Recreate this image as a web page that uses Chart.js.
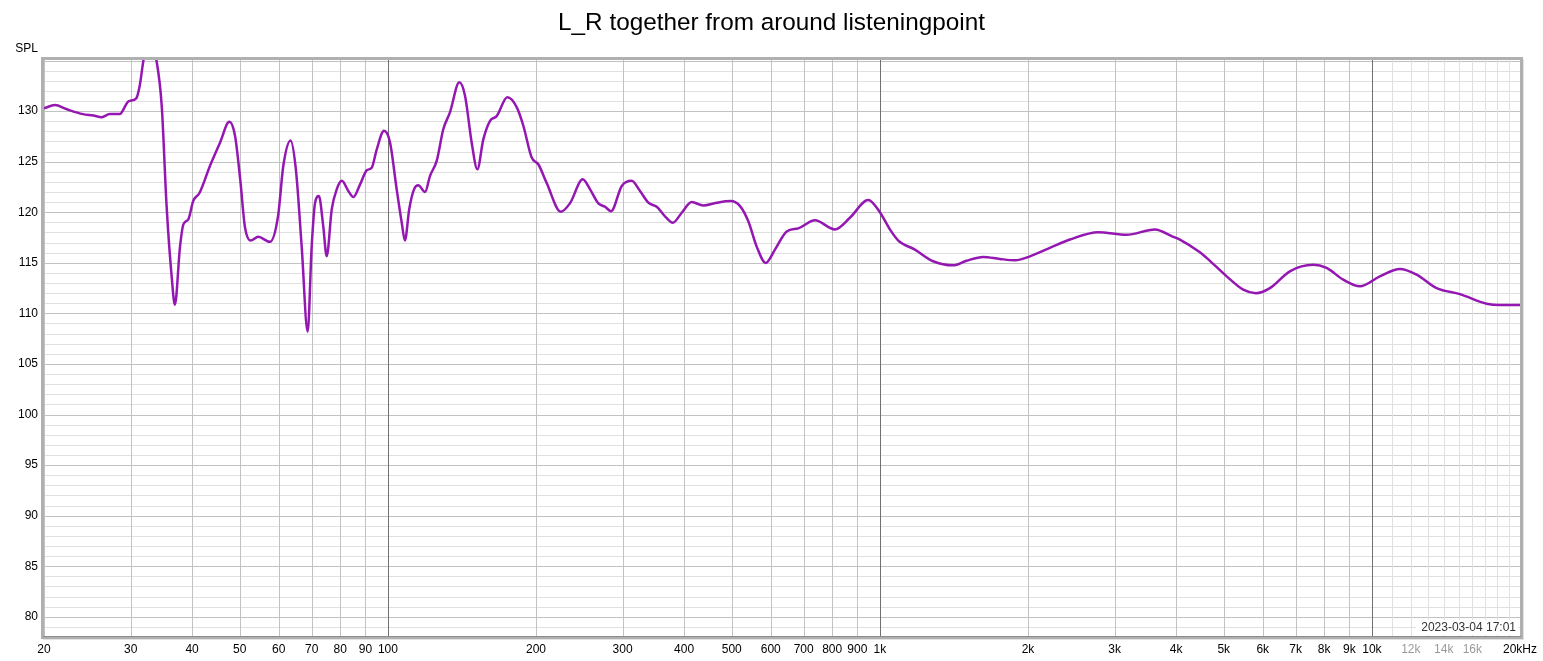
<!DOCTYPE html>
<html>
<head>
<meta charset="utf-8">
<script src="https://cdn.jsdelivr.net/npm/chart.js@4.4.1/dist/chart.umd.min.js"></script>
<style>
  html, body { margin: 0; padding: 0; background: #fff; }
  canvas { display: block; }
</style>
</head>
<body>
<canvas id="fr" width="1543" height="661"></canvas>
<script>
const freqHz = [
  20, 21.06, 22.2, 24.0, 25.2, 26.2, 27.2, 28.5, 29.7, 30.8,
  31.3, 31.9, 32.8, 33.8, 34.7, 35.5, 36.4, 36.9, 37.8, 38.4,
  39.3, 40.2, 41.4, 43.5, 45.6, 47.6, 48.9, 50.1, 51.2, 52.6,
  54.5, 57.6, 59.8, 61.3, 63.4, 65.0, 66.8, 68.7, 70.0, 71.1,
  72.4, 73.9, 75.1, 76.9, 78.7, 80.6, 83.1, 85.1, 87.8, 90.6,
  92.7, 94.9, 98.2, 101, 104.2, 106.7, 108.3, 110.5, 113, 115.3,
  119, 121.8, 125.7, 129.6, 133.7, 139.7, 143.5, 148, 152, 156.3,
  161.3, 166.4, 174.9, 182.8, 188.5, 196, 202.2, 210.2, 224.6, 234.6,
  248.9, 257.6, 267.8, 276.3, 284.2, 298.8, 313, 325.4, 338.4, 351.9,
  365.8, 379.3, 395.6, 414.4, 437.5, 466, 497.5, 519.7, 540.2, 561.8,
  586, 612, 646.6, 682.6, 738, 810.4, 869, 947, 1000, 1048,
  1090, 1178, 1283, 1409, 1500, 1622, 1753, 1881, 2018, 2216,
  2433, 2778, 3172, 3622, 3946, 4071, 4471, 4613, 5068, 5476,
  5811, 6205, 6813, 7598, 8089, 8745, 9454, 10380, 11400, 12330,
  13540, 15100, 17110, 18210, 20000
];
const splDb = [
  130.27, 130.6, 130.2, 129.7, 129.57, 129.4, 129.7, 129.7, 130.96, 131.26,
  132.5, 135.2, 137.3, 135.2, 130.5, 120.6, 113.3, 110.85, 116.6, 118.8,
  119.3, 121.1, 121.9, 124.6, 126.9, 128.94, 127.55, 123.25, 118.6, 117.2,
  117.57, 117.07, 119.6, 124.6, 127.1, 124.25, 116.6, 108.2, 116.6, 120.9,
  121.6, 118.6, 115.65, 120.3, 122.26, 123.1, 122.1, 121.5, 122.75, 124.15,
  124.4, 126.2, 128.05, 126.9, 122.26, 118.96, 117.2, 120.3, 122.26, 122.66,
  122.0, 123.6, 125.1, 128.2, 129.87, 132.85, 131.5, 126.9, 124.25, 127.2,
  129.04, 129.5, 131.36, 130.37, 128.55, 125.4, 124.74, 122.9, 120.05, 120.9,
  123.25, 122.26, 120.87, 120.54, 120.1, 122.6, 123.1, 122.1, 120.94, 120.54,
  119.6, 118.96, 119.95, 121.0, 120.67, 120.94, 121.1, 120.6, 119.1, 116.6,
  114.99, 116.3, 118.1, 118.4, 119.2, 118.3, 119.45, 121.2, 120.0, 118.3,
  117.2, 116.3, 115.15, 114.75, 115.2, 115.58, 115.38, 115.25, 115.64, 116.48,
  117.3, 118.03, 117.77, 118.3, 117.57, 117.3, 116.04, 115.49, 113.66, 112.34,
  112.0, 112.5, 114.16, 114.8, 114.49, 113.33, 112.67, 113.66, 114.39, 113.83,
  112.5, 111.9, 110.95, 110.82, 110.82
];

const xTickVals = [
  20, 30, 40, 50, 60, 70, 80, 90, 100,
  200, 300, 400, 500, 600, 700, 800, 900, 1000,
  2000, 3000, 4000, 5000, 6000, 7000, 8000, 9000, 10000,
  11000, 12000, 13000, 14000, 15000, 16000, 17000, 18000, 19000, 20000
];
const xTickLabels = [
  "20", "30", "40", "50", "60", "70", "80", "90", "100",
  "200", "300", "400", "500", "600", "700", "800", "900", "1k",
  "2k", "3k", "4k", "5k", "6k", "7k", "8k", "9k", "10k",
  "", "12k", "", "14k", "", "16k", "", "", "", "20kHz"
];
const fadedLabels = ["12k", "14k", "16k"];
const decadeLines = [100, 1000, 10000];

let yTickVals = [];
for (let v = 78; v <= 135; v++) yTickVals.push(v);
const yLabelMax = 130;

const titleText = "L_R together from around listeningpoint";
const stampText = "2023-03-04 17:01";
const lineColor = "#9417b2";
const fontFam = "'Liberation Sans', Arial, sans-serif";

let points = freqHz.map((f, i) => ({ x: f, y: splDb[i] }));

const labelFor = (v) => {
  let i = xTickVals.indexOf(v);
  return i >= 0 ? xTickLabels[i] : "";
};

/******************** grid (drawn under the curve) ********************/
const gridPlugin = {
  id: "fgrid",
  beforeDatasetsDraw(chart) {
    const c = chart.ctx;
    const a = chart.chartArea;
    const xs = chart.scales.x;
    const ys = chart.scales.y;
    const hLine = (v, col) => {
      let y = Math.round(ys.getPixelForValue(v)) + 0.5;
      c.strokeStyle = col;
      c.beginPath();
      c.moveTo(a.left, y);
      c.lineTo(a.right, y);
      c.stroke();
    };
    const vLine = (v, col) => {
      let x = Math.round(xs.getPixelForValue(v)) + 0.5;
      c.strokeStyle = col;
      c.beginPath();
      c.moveTo(x, a.top);
      c.lineTo(x, a.bottom);
      c.stroke();
    };
    c.save();
    c.lineWidth = 1;
    yTickVals.forEach((v) => { if (v % 5 !== 0) hLine(v, "#e0e0e0"); });
    yTickVals.forEach((v) => { if (v % 5 === 0) hLine(v, "#c2c2c2"); });
    xTickVals.forEach((v) => { if (v > 10000 && v < 20000) vLine(v, "#e0e0e0"); });
    xTickVals.forEach((v) => {
      if (v <= 10000 && !decadeLines.includes(v)) vLine(v, "#c2c2c2");
    });
    decadeLines.forEach((v) => vLine(v, "#707070"));
    c.restore();
  },
};

/******************** frame, title, SPL, stamp ********************/
const decorPlugin = {
  id: "decor",
  afterDraw(chart) {
    const c = chart.ctx;
    const a = chart.chartArea;
    c.save();
    // timestamp box
    c.fillStyle = "#fff";
    c.fillRect(1416, 620, a.right - 1418, a.bottom - 621);
    c.fillStyle = "#333";
    c.font = "12px " + fontFam;
    c.textAlign = "right";
    c.textBaseline = "alphabetic";
    c.fillText(stampText, a.right - 4, 631);

    // frame
    c.strokeStyle = "#e2e2e2";
    c.lineWidth = 2;
    c.beginPath();
    c.moveTo(a.right + 3, a.top - 1);
    c.lineTo(a.right + 3, a.bottom + 3);
    c.lineTo(a.left - 1, a.bottom + 3);
    c.stroke();
    c.strokeStyle = "#b0b0b0";
    c.lineWidth = 3;
    c.strokeRect(a.left - 1.5, a.top - 1.5, a.right - a.left + 3, a.bottom - a.top + 3);
    c.strokeStyle = "#8c8c8c";
    c.lineWidth = 1;
    c.beginPath();
    c.moveTo(a.left - 1, a.bottom + 0.5);
    c.lineTo(a.right + 1, a.bottom + 0.5);
    c.stroke();

    // title + axis name
    c.fillStyle = "#000";
    c.font = "24.3px " + fontFam;
    c.textAlign = "center";
    c.textBaseline = "middle";
    c.fillText(titleText, chart.width / 2, 23);
    c.font = "12px " + fontFam;
    c.textAlign = "right";
    c.fillText("SPL", 38, 49);
    c.restore();
  },
};

let ctx = document.getElementById("fr").getContext("2d");
let chartFR = new Chart(ctx, {
  type: "line",
  data: {
    datasets: [
      {
        data: points,
        borderColor: lineColor,
        borderWidth: 2.5,
        pointRadius: 0,
        fill: false,
        cubicInterpolationMode: "monotone",
        clip: 0,
      },
    ],
  },
  options: {
    responsive: false,
    animation: false,
    devicePixelRatio: 1,
    layout: { padding: { top: 60, right: 22, left: 0, bottom: 0 } },
    plugins: {
      legend: { display: false },
      title: { display: false },
      tooltip: { enabled: false },
    },
    scales: {
      x: {
        type: "logarithmic",
        min: 20,
        max: 20000,
        afterBuildTicks: (s) => {
          s.ticks = xTickVals.map((v) => ({ value: v }));
        },
        afterFit: (s) => {
          s.height = 25;
        },
        border: { display: false },
        grid: { display: false, drawTicks: false },
        ticks: {
          autoSkip: false,
          maxRotation: 0,
          minRotation: 0,
          padding: 6,
          font: { family: fontFam, size: 12 },
          color: (c) => (fadedLabels.includes(labelFor(c.tick.value)) ? "#9a9a9a" : "#000"),
          callback: (v) => labelFor(v),
        },
      },
      y: {
        type: "linear",
        min: 78.1,
        max: 135.05,
        afterBuildTicks: (s) => {
          s.ticks = yTickVals.map((v) => ({ value: v }));
        },
        afterFit: (s) => {
          s.width = 44;
        },
        border: { display: false },
        grid: { display: false, drawTicks: false },
        ticks: {
          autoSkip: false,
          padding: 6,
          font: { family: fontFam, size: 12 },
          color: "#000",
          callback: (v) => (v % 5 === 0 && v <= yLabelMax ? String(v) : ""),
        },
      },
    },
  },
  plugins: [gridPlugin, decorPlugin],
});
</script>
</body>
</html>
